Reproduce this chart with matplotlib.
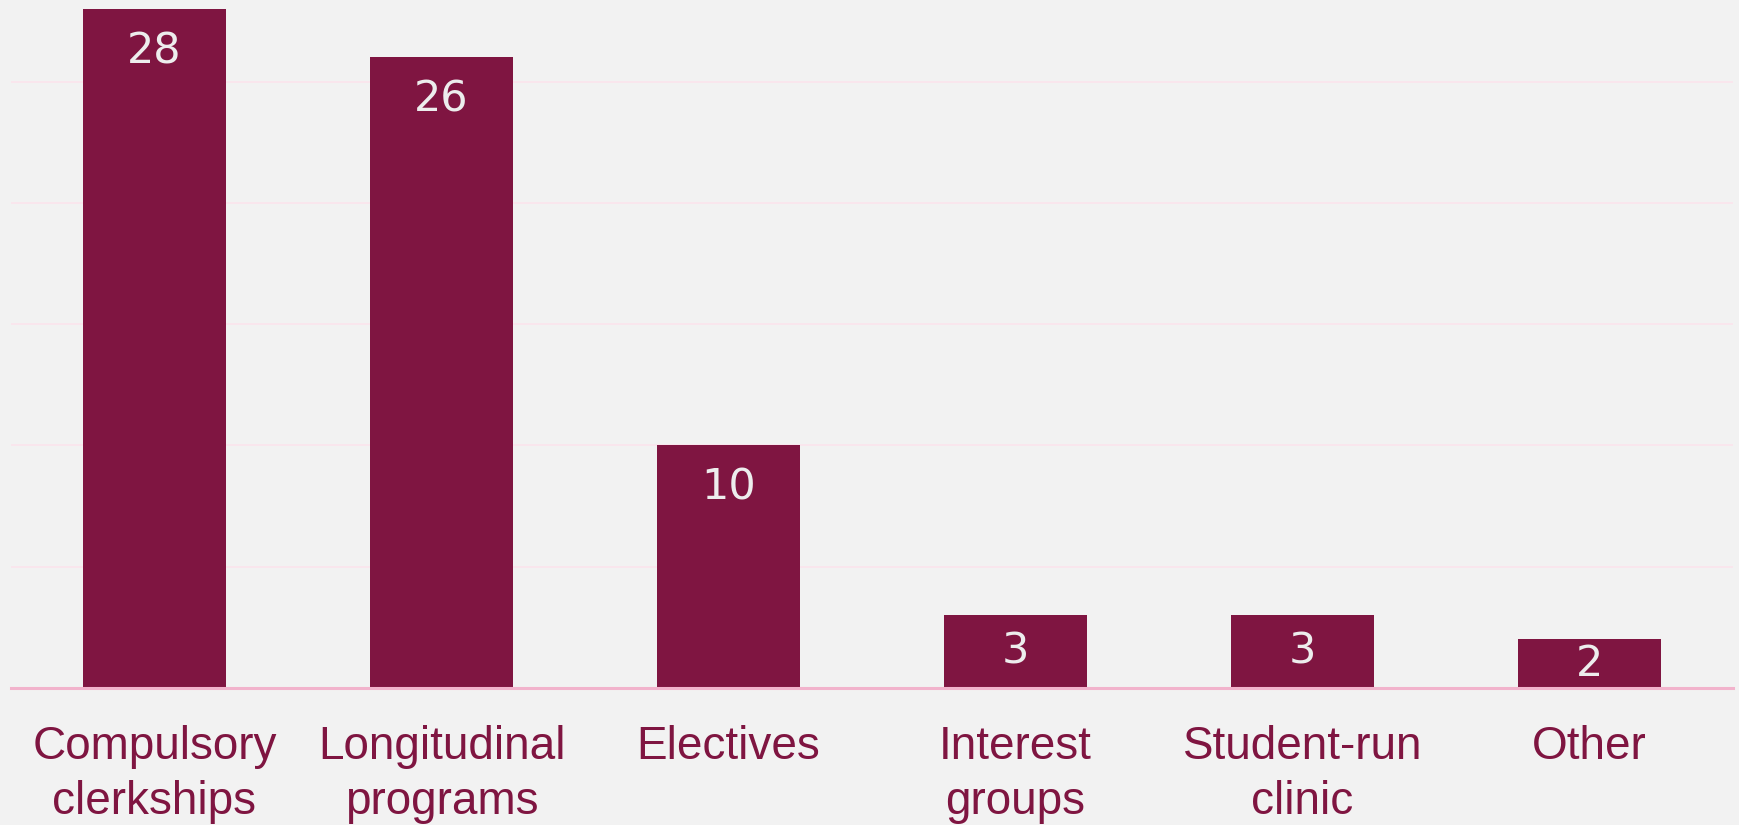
import matplotlib
matplotlib.use('Agg')
import matplotlib.pyplot as plt

# Данные
categories = ['Compulsory\nclerkships', 'Longitudinal\nprograms', 'Electives',
              'Interest\ngroups', 'Student-run\nclinic', 'Other']
counts = [28, 26, 10, 3, 3, 2]

BG = '#F2F2F2'
BAR = '#7F1541'
GRID = '#FBE4EC'
AXIS = '#F2B3CC'

fig = plt.figure(figsize=(17.39, 8.25), dpi=100, facecolor=BG)
ax = fig.add_axes([11 / 1739, 1 - 688 / 825, 1722 / 1739, 688 / 825])
ax.set_facecolor(BG)

x = range(len(categories))
ax.bar(x, counts, width=0.5, color=BAR, zorder=3)

ax.set_xlim(-0.5, len(categories) - 0.5)
ax.set_ylim(0, 28.37)
ax.set_yticks([0, 5, 10, 15, 20, 25])
ax.yaxis.grid(True, color=GRID, linewidth=1.2, zorder=0)
ax.tick_params(axis='y', left=False, labelleft=False)

for side in ['top', 'left', 'right']:
    ax.spines[side].set_visible(False)
ax.spines['bottom'].set_color(AXIS)
ax.spines['bottom'].set_linewidth(2.2)
ax.spines['bottom'].set_zorder(4)

ax.set_xticks(list(x))
ax.set_xticklabels(categories, fontsize=33, color=BAR, linespacing=1.32,
                   family=['Liberation Sans', 'DejaVu Sans'])
ax.tick_params(axis='x', bottom=False, pad=23)

# Подписи значений внутри столбцов
for i, v in enumerate(counts):
    y = max(v - 1.75, v / 2)
    ax.text(i, y, str(v), ha='center', va='center', fontsize=31,
            color='#EDEDED', zorder=5)

fig.savefig('out.png', dpi=100, facecolor=BG)
